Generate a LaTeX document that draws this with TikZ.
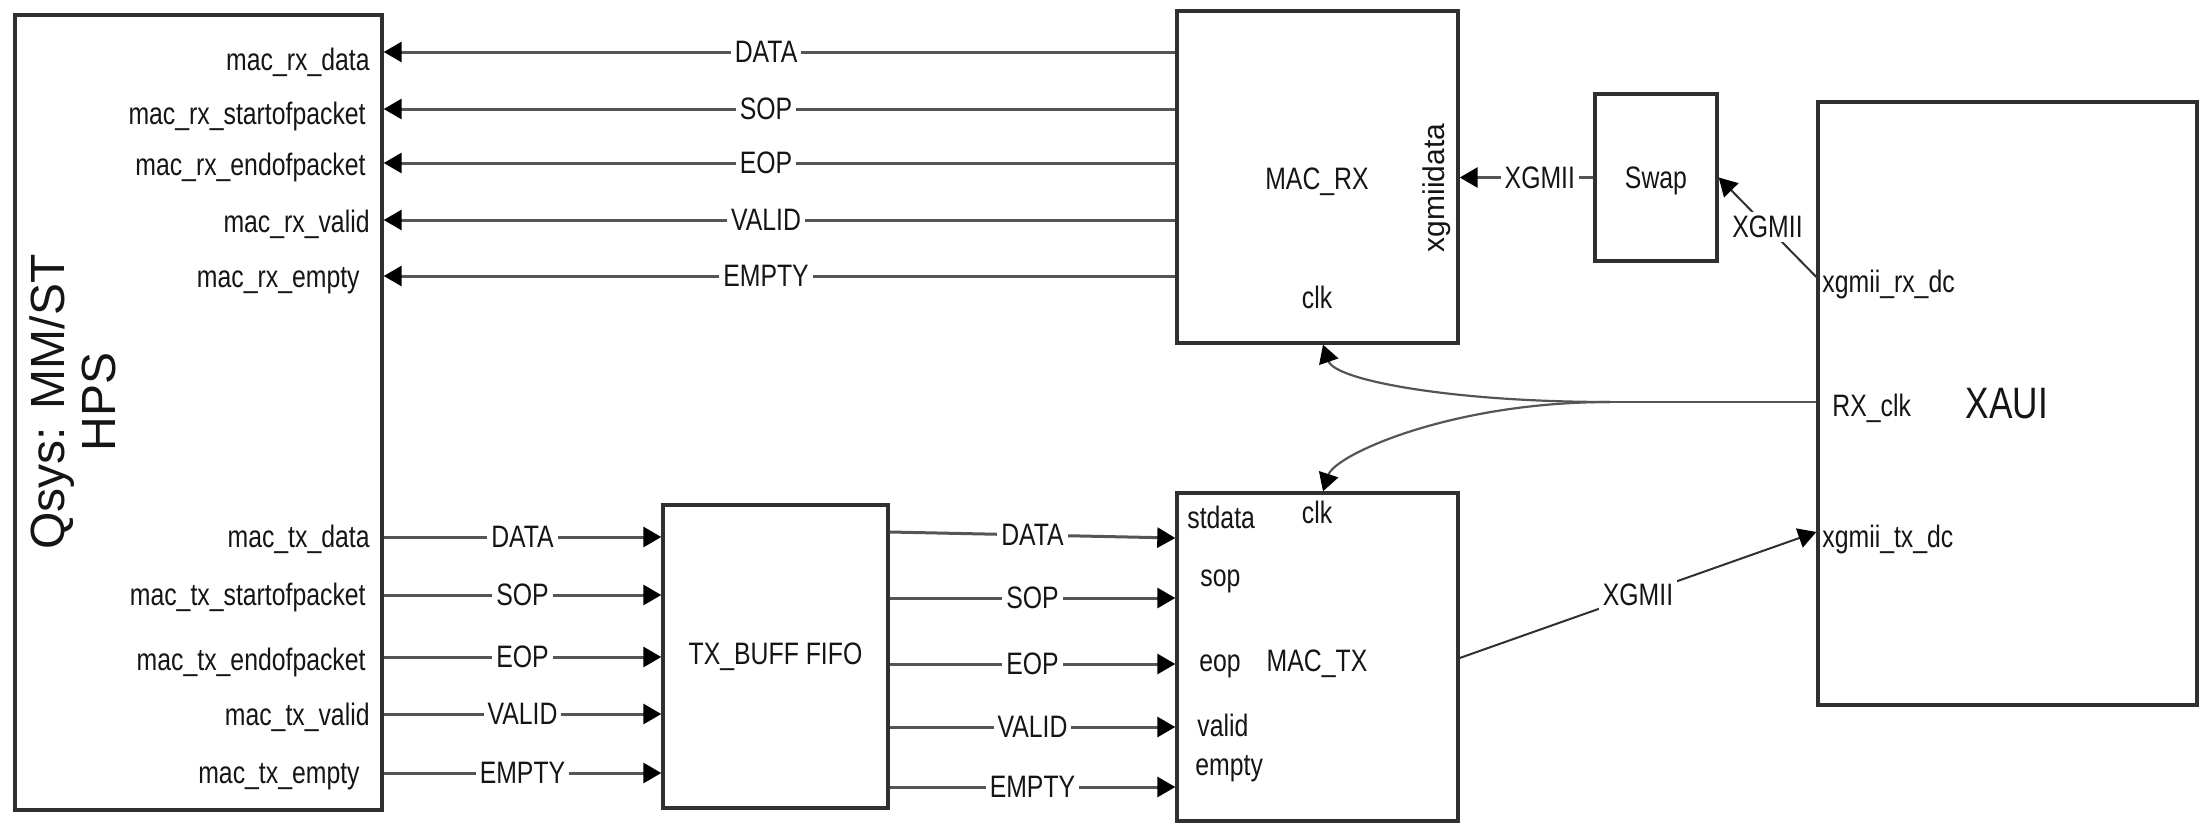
\documentclass[tikz,border=0pt]{standalone}
\usepackage{fontspec}
\setmainfont[FakeStretch=0.8]{Liberation Sans}
\newfontfamily\plainfont{Liberation Sans}
\usetikzlibrary{arrows.meta}
\definecolor{boxc}{HTML}{303030}
\definecolor{linec}{HTML}{555555}
\definecolor{txtc}{HTML}{151515}
\begin{document}
\begin{tikzpicture}[x=0.5pt,y=-0.5pt,
  box/.style={draw=boxc,line width=1.7pt,fill=white,inner sep=0pt},
  lbl/.style={font=\fontsize{15.5}{18}\selectfont,text=txtc,inner sep=0pt},
  sig/.style={draw=linec,line width=1.5pt},
  arr/.style={sig,-{Triangle[length=9pt,width=10pt,color=black]}},
  thin/.style={draw=boxc,line width=1pt},
  onlab/.style={lbl,fill=white,inner sep=2pt},
]
\useasboundingbox (0,0) rectangle (2202,825);

% boxes
\node[box,minimum width=183.5pt,minimum height=397.5pt] (qsys) at (198.5,412.5) {};
\node[box,minimum width=112.5pt,minimum height=151.5pt] (fifo) at (775.5,656.5) {};
\node[box,minimum width=140.5pt,minimum height=166pt] (macrx) at (1317.5,177) {};
\node[box,minimum width=140.5pt,minimum height=164pt] (mactx) at (1317.5,657) {};
\node[box,minimum width=61pt,minimum height=83.5pt] (swap) at (1656,177.5) {};
\node[box,minimum width=189.5pt,minimum height=301.5pt] (xaui) at (2007.5,403.5) {};

% Qsys texts
\node[font=\plainfont\fontsize{24}{25.5}\selectfont,text=txtc,rotate=90,align=center,inner sep=0pt] (qlab) at (73,402) {Qsys: MM/ST\\HPS};
\node[lbl,anchor=base east] (lrx1) at (370,70) {mac\_rx\_data};
\node[lbl,anchor=base east] (lrx2) at (366,124) {mac\_rx\_startofpacket};
\node[lbl,anchor=base east] (lrx3) at (366,175) {mac\_rx\_endofpacket};
\node[lbl,anchor=base east] (lrx4) at (370,232) {mac\_rx\_valid};
\node[lbl,anchor=base east] (lrx5) at (360,287) {mac\_rx\_empty};
\node[lbl,anchor=base east] (ltx1) at (370,547) {mac\_tx\_data};
\node[lbl,anchor=base east] (ltx2) at (366,605) {mac\_tx\_startofpacket};
\node[lbl,anchor=base east] (ltx3) at (366,670) {mac\_tx\_endofpacket};
\node[lbl,anchor=base east] (ltx4) at (370,725) {mac\_tx\_valid};
\node[lbl,anchor=base east] (ltx5) at (360,783) {mac\_tx\_empty};

% FIFO
\node[lbl] (fifolab) at (775.5,657) {TX\_BUFF FIFO};

% MAC_RX texts
\node[lbl,anchor=base] (rxlab) at (1317,189) {MAC\_RX};
\node[lbl,anchor=base] (rxclk) at (1317,308) {clk};
\node[font=\plainfont\fontsize{15}{18}\selectfont,text=txtc,rotate=90,inner sep=0pt] (rxxg) at (1437,188) {xgmiidata};

% MAC_TX texts
\node[lbl,anchor=base west] (tstd) at (1187,528) {stdata};
\node[lbl,anchor=base] (tclk) at (1317,523) {clk};
\node[lbl,anchor=base west] (tsop) at (1200,586) {sop};
\node[lbl,anchor=base west] (teop) at (1199,671) {eop};
\node[lbl,anchor=base] (txlab) at (1317,671) {MAC\_TX};
\node[lbl,anchor=base west] (tval) at (1197,736) {valid};
\node[lbl,anchor=base west] (temp) at (1195,775) {empty};

% Swap / XAUI texts
\node[lbl,anchor=base] (swaplab) at (1656,188) {Swap};
\node[lbl,anchor=base west] (xrx) at (1822,292) {xgmii\_rx\_dc};
\node[lbl,anchor=base west] (xclk) at (1832,416) {RX\_clk};
\node[lbl,anchor=base west] (xtx) at (1822,547) {xgmii\_tx\_dc};
\node[lbl,font=\fontsize{22}{26}\selectfont,anchor=base] (xauilab) at (2007,418) {XAUI};

% RX signals MAC_RX -> Qsys
\draw[arr] (macrx.west |- 0,52) -- node[onlab,pos=0.517]{DATA} (qsys.east |- 0,52);
\draw[arr] (macrx.west |- 0,109) -- node[onlab,pos=0.517]{SOP} (qsys.east |- 0,109);
\draw[arr] (macrx.west |- 0,163) -- node[onlab,pos=0.517]{EOP} (qsys.east |- 0,163);
\draw[arr] (macrx.west |- 0,220) -- node[onlab,pos=0.517]{VALID} (qsys.east |- 0,220);
\draw[arr] (macrx.west |- 0,276) -- node[onlab,pos=0.517]{EMPTY} (qsys.east |- 0,276);

% TX signals Qsys -> FIFO
\draw[arr] (qsys.east |- 0,537) -- node[onlab]{DATA} (fifo.west |- 0,537);
\draw[arr] (qsys.east |- 0,595) -- node[onlab]{SOP} (fifo.west |- 0,595);
\draw[arr] (qsys.east |- 0,657) -- node[onlab]{EOP} (fifo.west |- 0,657);
\draw[arr] (qsys.east |- 0,714) -- node[onlab]{VALID} (fifo.west |- 0,714);
\draw[arr] (qsys.east |- 0,773) -- node[onlab]{EMPTY} (fifo.west |- 0,773);

% FIFO -> MAC_TX
\draw[arr] (fifo.east |- 0,532) -- node[onlab]{DATA} (mactx.west |- 0,538);
\draw[arr] (fifo.east |- 0,598) -- node[onlab]{SOP} (mactx.west |- 0,598);
\draw[arr] (fifo.east |- 0,664) -- node[onlab]{EOP} (mactx.west |- 0,664);
\draw[arr] (fifo.east |- 0,727) -- node[onlab]{VALID} (mactx.west |- 0,727);
\draw[arr] (fifo.east |- 0,787) -- node[onlab]{EMPTY} (mactx.west |- 0,787);

% XGMII links
\draw[arr] (swap.west) -- node[onlab,pos=0.4]{XGMII} (macrx.east |- swap.west);
\draw[arr,thin] (xaui.west |- 0,277) -- node[onlab]{XGMII} (swap.east);
\draw[arr,thin] (mactx.east |- 0,658) -- node[onlab]{XGMII} (xaui.west |- 0,532);

% clocks
\coordinate (br) at (1610,402);
\draw[sig,line width=1.3pt] (xaui.west |- 0,402) -- (br);
\draw[arr,line width=1.1pt] (br) .. controls (1450,402) and (1335,380) .. (macrx.south -| 1323,0);
\draw[arr,line width=1.1pt] (br) .. controls (1450,402) and (1335,455) .. (mactx.north -| 1323,0);
\end{tikzpicture}
\end{document}
